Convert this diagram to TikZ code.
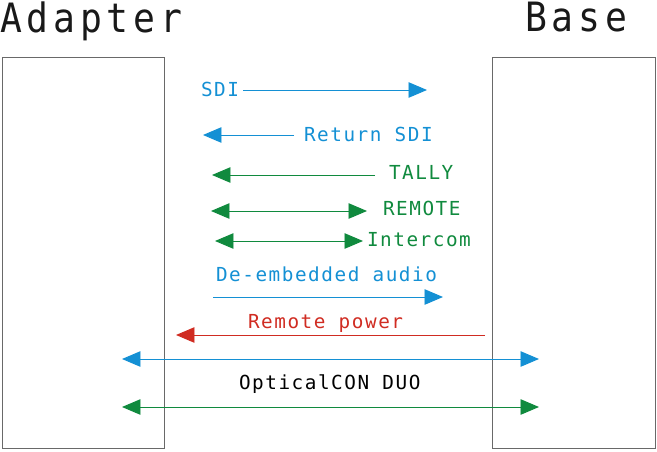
\documentclass[tikz,border=0pt]{standalone}
\usepackage{fontspec}
\usetikzlibrary{arrows.meta}
\newfontfamily\titlefont[FakeStretch=0.9,LetterSpace=12]{DejaVu Sans Mono}
\newfontfamily\labelfont[LetterSpace=8]{DejaVu Sans Mono}
\definecolor{sdiblue}{RGB}{20,144,212}
\definecolor{ctrlgreen}{RGB}{16,138,62}
\definecolor{powerred}{RGB}{208,44,34}
\definecolor{boxgray}{RGB}{105,105,105}

\begin{document}
\begin{tikzpicture}[x=0.02cm,y=-0.02cm,>={Triangle[length=0.37cm,width=0.31cm]},
    line width=0.55pt,
    every node/.style={inner sep=0pt,outer sep=0pt},
    title/.style={font=\titlefont\fontsize{23}{26}\selectfont,text=black!90},
    lbl/.style={font=\labelfont\fontsize{11}{13}\selectfont}]
      \useasboundingbox (0,0) rectangle (657,451);
      % the two units
      \node[draw=boxgray,minimum width=3.26cm,minimum height=7.84cm,anchor=north west] (adapter) at (2,57) {};
      \node[draw=boxgray,minimum width=3.28cm,minimum height=7.84cm,anchor=north west] (base) at (492,57) {};
      \node[title,anchor=base west] (adaptername) at (0,32) {Adapter};
      \node[title,anchor=base west] (basename) at (525,31) {Base};
      % signal ends
      \coordinate (sdiA) at (243,90);
      \coordinate (sdiB) at (427,90);
      \coordinate (retA) at (294,135);
      \coordinate (retB) at (203,135);
      \coordinate (tallyA) at (375,175);
      \coordinate (tallyB) at (212,175);
      \coordinate (remA) at (211,211);
      \coordinate (remB) at (367,211);
      \coordinate (icA) at (215,241);
      \coordinate (icB) at (363,241);
      \coordinate (audA) at (213,297);
      \coordinate (audB) at (443,297);
      \coordinate (pwrA) at (485,335);
      \coordinate (pwrB) at (176,335);
      \coordinate (fibA) at (122,359);
      \coordinate (fibB) at (539,359);
      \coordinate (cuA) at (122,407);
      \coordinate (cuB) at (539,407);
      % labels
      \node[lbl,text=sdiblue,anchor=base west] (sdi) at (201,96) {SDI};
      \node[lbl,text=sdiblue,anchor=base west] (retsdi) at (304,141) {Return SDI};
      \node[lbl,text=ctrlgreen,anchor=base west] (tally) at (389,179) {TALLY};
      \node[lbl,text=ctrlgreen,anchor=base west] (remote) at (383,215) {REMOTE};
      \node[lbl,text=ctrlgreen,anchor=base west] (intercom) at (367,246) {Intercom};
      \node[lbl,text=sdiblue,anchor=base west] (audio) at (216,281) {De-embedded audio};
      \node[lbl,text=powerred,anchor=base west] (power) at (248,328) {Remote power};
      \node[lbl,text=black,anchor=base west] (optical) at (239,389) {OpticalCON DUO};
      % arrows
      \draw[->,sdiblue] (sdiA) -- (sdiB);
      \draw[->,sdiblue] (retA) -- (retB);
      \draw[->,ctrlgreen] (tallyA) -- (tallyB);
      \draw[<->,ctrlgreen] (remA) -- (remB);
      \draw[<->,ctrlgreen] (icA) -- (icB);
      \draw[->,sdiblue] (audA) -- (audB);
      \draw[->,powerred] (pwrA) -- (pwrB);
      \draw[<->,sdiblue] (fibA) -- (fibB);
      \draw[<->,ctrlgreen] (cuA) -- (cuB);
\end{tikzpicture}
\end{document}
